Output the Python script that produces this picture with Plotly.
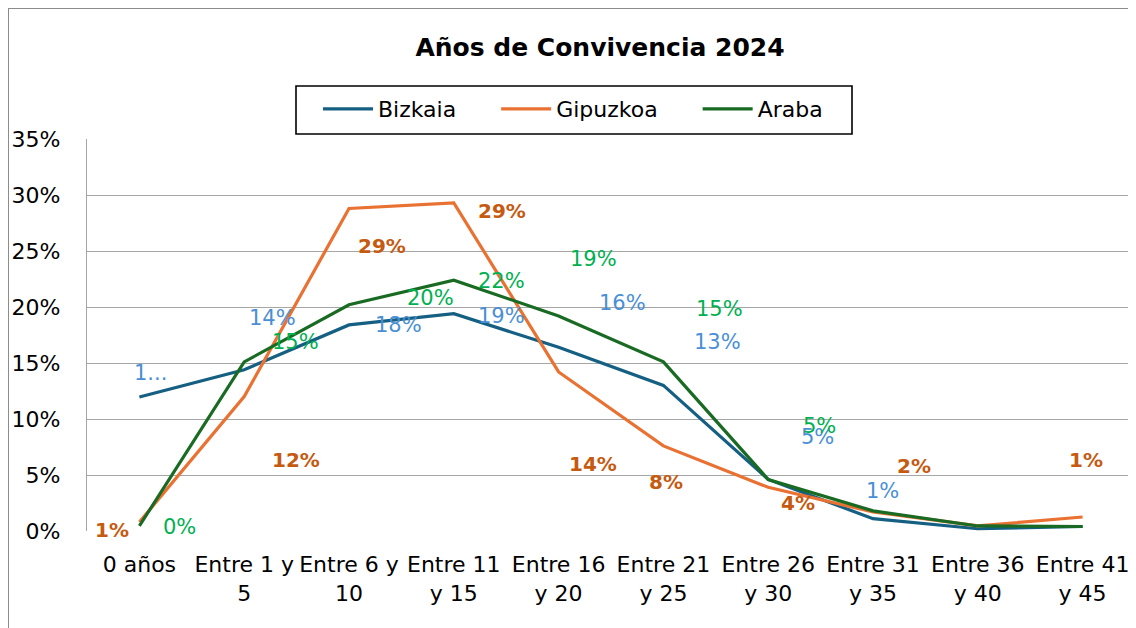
import plotly.graph_objects as go

# ---------------- data ----------------
categories = ["0 años", "Entre 1 y<br>5", "Entre 6 y<br>10", "Entre 11<br>y 15", "Entre 16<br>y 20",
              "Entre 21<br>y 25", "Entre 26<br>y 30", "Entre 31<br>y 35", "Entre 36<br>y 40", "Entre 41<br>y 45"]
series_names = ["Bizkaia", "Gipuzkoa", "Araba"]
bizkaia = [0.1196, 0.144, 0.184, 0.194, 0.164, 0.130, 0.046, 0.011, 0.002, 0.004]
gipuzkoa = [0.008, 0.120, 0.288, 0.293, 0.142, 0.076, 0.039, 0.017, 0.0045, 0.0125]
araba = [0.0045, 0.151, 0.202, 0.224, 0.192, 0.151, 0.046, 0.018, 0.0045, 0.004]

# which points carry a data label (Excel placed them loosely)
bizkaia_labeled = [True, True, True, True, True, True, True, True, False, False]
gipuzkoa_labeled = [True, True, True, True, True, True, True, True, False, True]
araba_labeled = [True, True, True, True, True, True, True, False, False, False]

# ---------------- label offsets (pixels: dx right, dy up) ----------------
bizkaia_off = [(11, 24), (28, 52), (49, 0), (48, -2), (64, 44), (54, 43), (49, 42), (9, 28), None, None]
gipuzkoa_off = [(-27, -8), (52, -63), (33, -38), (48, -8), (34, -92), (3, -36), (30, -16), (41, 46), None, (3, 57)]
araba_off = [(40, -1), (51, 20), (81, 7), (48, -1), (35, 57), (56, 53), (51, 53), None, None, None]

C_BIZ, C_GIP, C_ARA = "#156082", "#E97132", "#196B24"
L_BIZ, L_GIP, L_ARA = "#4A8FD6", "#C55A11", "#00B050"
FONT = "DejaVu Sans, Verdana, sans-serif"
NB = "\u00a0" * 5  # legend spacing

fig = go.Figure()
for name, vals, col in zip(series_names, [bizkaia, gipuzkoa, araba], [C_BIZ, C_GIP, C_ARA]):
    fig.add_trace(go.Scatter(x=categories, y=vals, mode="lines", name=name + NB,
                             line=dict(color=col, width=3.2), hoverinfo="skip"))

def pct(v):
    return f"{int(round(v * 100))}%"

annotations = []
for vals, labeled, offs, col, bold, trunc in [
        (bizkaia, bizkaia_labeled, bizkaia_off, L_BIZ, False, True),
        (gipuzkoa, gipuzkoa_labeled, gipuzkoa_off, L_GIP, True, False),
        (araba, araba_labeled, araba_off, L_ARA, False, False)]:
    for i, (c, v) in enumerate(zip(categories, vals)):
        if not labeled[i]:
            continue
        txt = pct(v)
        if trunc and i == 0:
            txt = txt[0] + "..."
        if bold:
            txt = f"<b>{txt}</b>"
        dx, dy = offs[i]
        annotations.append(dict(x=c, y=v, xref="x", yref="y", text=txt, showarrow=False,
                                xshift=dx, yshift=dy, xanchor="center", yanchor="middle",
                                font=dict(family=FONT, size=20 if bold else 21, color=col)))

# the page has an 8px body margin; figure = 1128x620 placed at (8,8)
W, H = 1128, 620
L, R, T, B = 79, 1, 131, 97
pw, ph = W - L - R, H - T - B

def px_x(p):  # page pixel -> paper x
    return (p - 8 - L) / pw

def px_y(p):  # page pixel -> paper y
    return (H - B - (p - 8)) / ph

fig.update_layout(
    width=W, height=H,
    margin=dict(l=L, r=R, t=T, b=B),
    paper_bgcolor="white", plot_bgcolor="white",
    font=dict(family=FONT, size=22, color="#000000"),
    title=dict(text="<b>Años de Convivencia 2024</b>", x=592 / W, xref="container", xanchor="center",
               y=1 - 39 / H, yref="container", yanchor="middle",
               font=dict(family=FONT, size=25, color="#000000")),
    showlegend=True,
    legend=dict(orientation="h", x=px_x(318), xanchor="left", y=px_y(88), yanchor="top",
                bgcolor="rgba(0,0,0,0)", borderwidth=0,
                font=dict(family=FONT, size=22, color="#000000"),
                itemwidth=50, tracegroupgap=0),
    xaxis=dict(type="category", showgrid=False, zeroline=False, showline=False, ticks="",
               tickfont=dict(family=FONT, size=22, color="#000000"), ticklabelstandoff=18,
               range=[-0.5, len(categories) - 0.5]),
    yaxis=dict(range=[0, 0.35], dtick=0.05, tickformat=".0%", showgrid=True, gridcolor="#A6A6A6",
               gridwidth=1.2, zeroline=False, showline=True, linecolor="#A6A6A6", linewidth=1.2,
               ticks="", tickfont=dict(family=FONT, size=22, color="#000000"), ticklabelstandoff=21),
    annotations=annotations,
    shapes=[
        dict(type="rect", xref="paper", yref="paper",
             x0=px_x(8), x1=px_x(1160), y0=px_y(660), y1=px_y(8),
             line=dict(color="#8C8C8C", width=2), fillcolor="rgba(0,0,0,0)", layer="below"),
        dict(type="rect", xref="paper", yref="paper",
             x0=px_x(296), x1=px_x(852), y0=px_y(134), y1=px_y(86),
             line=dict(color="#000000", width=1.6), fillcolor="white", layer="below"),
    ],
)

fig.write_html("out.html")
